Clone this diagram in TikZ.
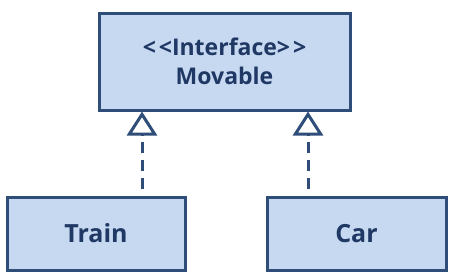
\documentclass[tikz,border=0pt]{standalone}
\usepackage{fontspec}
\setmainfont{Open Sans}[BoldFont={Open Sans Bold}]
\usetikzlibrary{arrows.meta}

\definecolor{boxfill}{HTML}{C6D9F1}
\definecolor{boxline}{HTML}{2E4D78}
\definecolor{boxtext}{HTML}{1F3864}

\tikzset{
	classbox/.style={draw=boxline, fill=boxfill, line width=3pt, text=boxtext, align=center},
	realize/.style={boxline, line width=3pt, dash pattern=on 11pt off 7pt, -{Triangle[open, length=24pt, width=30pt, line width=3pt]}}
}

\begin{document}
\begin{tikzpicture}[x=1pt, y=-1pt]
\useasboundingbox (0,0) rectangle (451,277);

\node (movable) at (224.5,61.5) [classbox, minimum width=251pt, minimum height=97pt, font=\fontsize{23}{29}\selectfont\bfseries] {<\kern3pt<Interface>\kern3pt>\\Movable};

\node (train) at (96,233.5) [classbox, minimum width=178pt, minimum height=73pt, font=\fontsize{25}{30}\selectfont\bfseries] {Train};
\node (car) at (356.5,233.5) [classbox, minimum width=179pt, minimum height=73pt, font=\fontsize{25}{30}\selectfont\bfseries] {Car};

\coordinate (trainup) at (142,189);
\coordinate (carup) at (308,189);

\draw [realize] (trainup) -- (trainup |- movable.south);
\draw [realize] (carup) -- (carup |- movable.south);

\end{tikzpicture}
\end{document}
